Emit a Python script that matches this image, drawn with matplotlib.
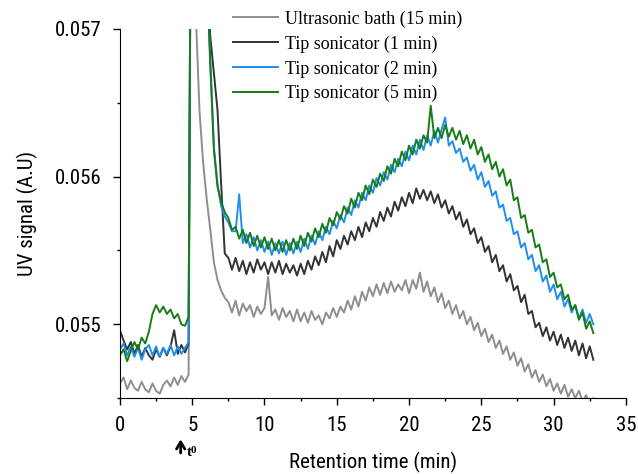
import numpy as np
import matplotlib
matplotlib.use("Agg")
import matplotlib.pyplot as plt
from matplotlib.ticker import MultipleLocator

# UV signal, in micro-AU, one sample every 0.25 min
sample_step = 0.25

ultrasonic_15 = [
    54600, 54640, 54560, 54620, 54570, 54550, 54610, 54560, 54540, 54600,
    54550, 54530, 54590, 54620, 54580, 54640, 54590, 54650, 54610, 54660,
    60000, 57100, 56450, 56100, 55850, 55640, 55420, 55300, 55230, 55180,
    55150, 55080, 55160, 55060, 55140, 55090, 55130, 55050, 55120, 55070,
    55110, 55320, 55060, 55100, 55030, 55110, 55050, 55090, 55020, 55100,
    55020, 55080, 55010, 55090, 55030, 55060, 55000, 55080, 55040, 55110,
    55050, 55120, 55080, 55160, 55100, 55190, 55120, 55220, 55160, 55250,
    55190, 55270, 55200, 55280, 55210, 55290, 55220, 55270, 55230, 55300,
    55210, 55300, 55240, 55350, 55220, 55290, 55190, 55250, 55150, 55210,
    55110, 55160, 55070, 55130, 55040, 55090, 55000, 55050, 54960, 55010,
    54920, 54970, 54880, 54930, 54840, 54890, 54800, 54850, 54760, 54810,
    54720, 54770, 54680, 54730, 54640, 54690, 54610, 54660, 54580, 54630,
    54550, 54600, 54530, 54590, 54510, 54560, 54500, 54550, 54480, 54520,
    54460, 54500]

tip_1 = [
    54960, 54890, 54830, 54880, 54800, 54860, 54780, 54840, 54790, 54760,
    54830, 54780, 54840, 54790, 54850, 54960, 54800, 54860, 54810, 54870,
    60000, 60000, 60000, 59000, 57400, 56950, 56700, 56450, 55950, 55480,
    55450, 55370, 55450, 55360, 55430, 55340, 55420, 55350, 55440, 55370,
    55420, 55340, 55420, 55350, 55430, 55340, 55410, 55350, 55400, 55330,
    55410, 55340, 55430, 55370, 55460, 55400, 55490, 55420, 55530, 55460,
    55570, 55510, 55600, 55540, 55630, 55570, 55660, 55590, 55690, 55630,
    55720, 55660, 55760, 55700, 55790, 55730, 55830, 55770, 55860, 55800,
    55890, 55820, 55920, 55850, 55910, 55840, 55900, 55820, 55880, 55790,
    55840, 55750, 55800, 55710, 55760, 55660, 55710, 55610, 55650, 55550,
    55590, 55490, 55530, 55420, 55470, 55360, 55400, 55290, 55340, 55230,
    55260, 55150, 55200, 55070, 55090, 54980, 55010, 54920, 54980, 54890,
    54950, 54860, 54930, 54840, 54910, 54820, 54890, 54790, 54870, 54770,
    54850, 54760]

tip_2 = [
    54830, 54870, 54790, 54850, 54780, 54840, 54760, 54830, 54860, 54790,
    54850, 54780, 54840, 54800, 54860, 54790, 54850, 54800, 54840, 54880,
    60000, 60000, 60000, 59000, 57400, 56800, 56200, 55950, 55800, 55730,
    55690, 55630, 55630, 55880, 55550, 55610, 55520, 55590, 55500, 55570,
    55490, 55560, 55470, 55550, 55480, 55560, 55470, 55550, 55480, 55560,
    55490, 55580, 55510, 55600, 55540, 55630, 55570, 55660, 55610, 55700,
    55650, 55740, 55690, 55790, 55740, 55840, 55790, 55890, 55840, 55940,
    55890, 55990, 55940, 56030, 55980, 56080, 56030, 56120, 56070, 56170,
    56110, 56210, 56150, 56250, 56180, 56280, 56210, 56310, 56230, 56320,
    56400, 56210, 56240, 56160, 56190, 56100, 56130, 56040, 56080, 55980,
    56030, 55930, 55970, 55870, 55900, 55790, 55810, 55700, 55720, 55610,
    55630, 55520, 55550, 55440, 55470, 55360, 55400, 55290, 55330, 55220,
    55270, 55170, 55220, 55120, 55170, 55080, 55130, 55040, 55100, 55010,
    55070, 55000]

tip_5 = [
    54790, 54830, 54750, 54820, 54880, 54830, 54910, 54870, 54950, 55070,
    55130, 55080, 55120, 55070, 55100, 55040, 55070, 55000, 54990, 55050,
    60000, 60000, 60000, 59000, 57400, 56750, 56180, 55930, 55830, 55760,
    55720, 55640, 55660, 55580, 55640, 55550, 55620, 55530, 55600, 55520,
    55590, 55510, 55580, 55500, 55570, 55490, 55570, 55500, 55580, 55510,
    55600, 55530, 55620, 55560, 55650, 55590, 55680, 55620, 55720, 55670,
    55760, 55710, 55800, 55750, 55850, 55790, 55890, 55840, 55940, 55880,
    55980, 55930, 56020, 55970, 56070, 56020, 56120, 56070, 56170, 56110,
    56210, 56150, 56250, 56190, 56280, 56230, 56480, 56260, 56330, 56260,
    56350, 56270, 56330, 56250, 56310, 56220, 56280, 56190, 56250, 56150,
    56200, 56100, 56150, 56050, 56100, 56000, 56050, 55940, 55980, 55840,
    55860, 55720, 55740, 55620, 55640, 55520, 55540, 55420, 55440, 55320,
    55350, 55250, 55270, 55170, 55200, 55100, 55130, 55030, 55080, 54970,
    55020, 54940]

labels = ["Ultrasonic bath (15 min)", "Tip sonicator (1 min)",
          "Tip sonicator (2 min)", "Tip sonicator (5 min)"]
colors = ["#8e8e8e", "#333333", "#1f8ef0", "#187c18"]
series = [ultrasonic_15, tip_1, tip_2, tip_5]

sans = ["Roboto Condensed", "DejaVu Sans Condensed", "Liberation Sans Narrow",
        "Roboto"]
serif = ["Liberation Serif", "DejaVu Serif"]

fig = plt.figure(figsize=(6.38, 4.74), dpi=100)
ax = fig.add_axes([0.188, 0.160, 0.793, 0.779])

for vals, lab, col in zip(series, labels, colors):
    t = np.arange(len(vals)) * sample_step
    ax.plot(t, np.array(vals) / 1e6, color=col, lw=1.4, label=lab)

ax.set_xlim(0, 35)
ax.set_ylim(0.0545, 0.057)
ax.xaxis.set_major_locator(MultipleLocator(5))
ax.xaxis.set_minor_locator(MultipleLocator(2.5))
ax.yaxis.set_major_locator(MultipleLocator(0.001))
ax.yaxis.set_minor_locator(MultipleLocator(0.0005))
ax.yaxis.set_major_formatter(plt.FormatStrFormatter("%.3f"))

for s in ["top", "right"]:
    ax.spines[s].set_visible(False)
ax.tick_params(which="major", direction="out", length=5, width=1, pad=8)
ax.tick_params(which="minor", direction="out", length=2.5, width=1)
for lbl in ax.get_xticklabels() + ax.get_yticklabels():
    lbl.set_family(sans)
    lbl.set_fontsize(15)

ax.set_xlabel("Retention time (min)", family=sans, fontsize=15, labelpad=12)
ax.set_ylabel("UV signal (A.U)", family=sans, fontsize=15, labelpad=12)

# injection time marker below the axis
ax.annotate("", xy=(4.2, -0.104), xytext=(4.2, -0.156),
            xycoords=("data", "axes fraction"),
            arrowprops=dict(arrowstyle="->,head_length=0.5,head_width=0.3",
                            color="black", lw=2))
ax.text(4.6, -0.166, "t", family=serif, fontsize=11, weight="bold",
        transform=ax.get_xaxis_transform(), va="bottom", ha="left",
        clip_on=False)
ax.text(4.92, -0.155, "0", family=serif, fontsize=8, weight="bold",
        transform=ax.get_xaxis_transform(), va="bottom", ha="left",
        clip_on=False)

ax.legend(loc="upper left", bbox_to_anchor=(0.223, 1.05), frameon=False,
          borderpad=0, borderaxespad=0, handlelength=2.5, handletextpad=0.4,
          labelspacing=0.42, prop={"family": serif, "size": 13})

fig.savefig("out.png", dpi=100)
